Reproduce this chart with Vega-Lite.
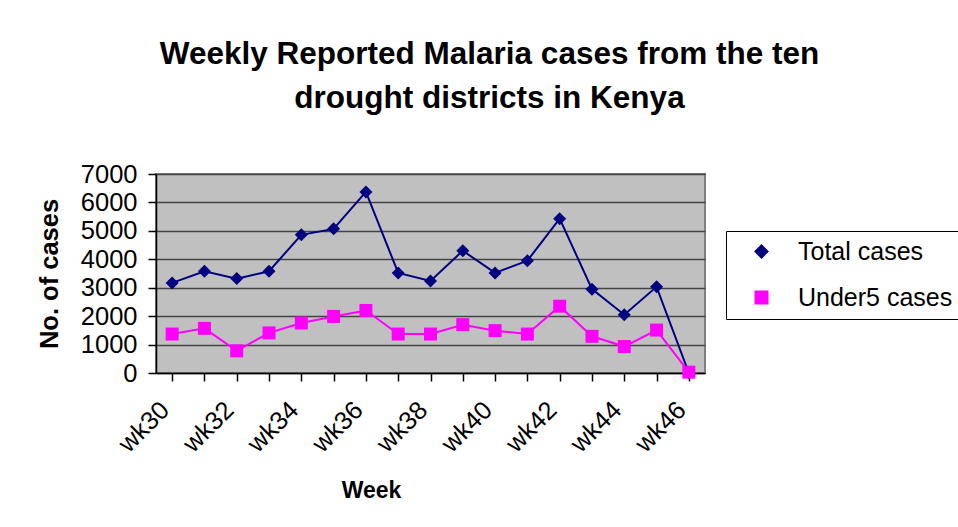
{
  "$schema": "https://vega.github.io/schema/vega-lite/v6.json",
  "autosize": "none",
  "width": 549,
  "height": 199,
  "padding": {"left": 156, "top": 174, "right": 253, "bottom": 154},
  "background": "#ffffff",
  "title": {
    "text": ["Weekly Reported Malaria cases from the ten", "drought districts in Kenya"],
    "font": "Liberation Sans",
    "fontSize": 31.5,
    "fontWeight": "bold",
    "color": "#000000",
    "anchor": "middle",
    "lineHeight": 44,
    "offset": 48,
    "dx": 59
  },
  "data": {
    "values": [
      {"week": "wk30", "series": "Total cases", "cases": 3170},
      {"week": "wk31", "series": "Total cases", "cases": 3580},
      {"week": "wk32", "series": "Total cases", "cases": 3320},
      {"week": "wk33", "series": "Total cases", "cases": 3580},
      {"week": "wk34", "series": "Total cases", "cases": 4860},
      {"week": "wk35", "series": "Total cases", "cases": 5070},
      {"week": "wk36", "series": "Total cases", "cases": 6370},
      {"week": "wk37", "series": "Total cases", "cases": 3520},
      {"week": "wk38", "series": "Total cases", "cases": 3240},
      {"week": "wk39", "series": "Total cases", "cases": 4300},
      {"week": "wk40", "series": "Total cases", "cases": 3520},
      {"week": "wk41", "series": "Total cases", "cases": 3950},
      {"week": "wk42", "series": "Total cases", "cases": 5430},
      {"week": "wk43", "series": "Total cases", "cases": 2950},
      {"week": "wk44", "series": "Total cases", "cases": 2050},
      {"week": "wk45", "series": "Total cases", "cases": 3030},
      {"week": "wk46", "series": "Total cases", "cases": 0},
      {"week": "wk30", "series": "Under5 cases", "cases": 1370},
      {"week": "wk31", "series": "Under5 cases", "cases": 1570},
      {"week": "wk32", "series": "Under5 cases", "cases": 780},
      {"week": "wk33", "series": "Under5 cases", "cases": 1410},
      {"week": "wk34", "series": "Under5 cases", "cases": 1760},
      {"week": "wk35", "series": "Under5 cases", "cases": 1990},
      {"week": "wk36", "series": "Under5 cases", "cases": 2200},
      {"week": "wk37", "series": "Under5 cases", "cases": 1370},
      {"week": "wk38", "series": "Under5 cases", "cases": 1370},
      {"week": "wk39", "series": "Under5 cases", "cases": 1700},
      {"week": "wk40", "series": "Under5 cases", "cases": 1490},
      {"week": "wk41", "series": "Under5 cases", "cases": 1370},
      {"week": "wk42", "series": "Under5 cases", "cases": 2350},
      {"week": "wk43", "series": "Under5 cases", "cases": 1290},
      {"week": "wk44", "series": "Under5 cases", "cases": 930},
      {"week": "wk45", "series": "Under5 cases", "cases": 1510},
      {"week": "wk46", "series": "Under5 cases", "cases": 30}
    ]
  },
  "encoding": {
    "x": {
      "field": "week",
      "type": "ordinal",
      "sort": null,
      "scale": {"padding": 0.5},
      "axis": {
        "title": "Week",
        "titleFont": "Liberation Sans",
        "titleFontSize": 23,
        "titleFontWeight": "bold",
        "titleColor": "#000",
        "titleX": 215,
        "titleY": 124,
        "titleBaseline": "alphabetic",
        "labelExpr": "toNumber(slice(datum.value, 2)) % 2 === 0 ? datum.value : ''",
        "labelAngle": -45,
        "labelAlign": "right",
        "labelBaseline": "top",
        "labelFont": "Liberation Sans",
        "labelFontSize": 25.5,
        "labelColor": "#000",
        "labelOffset": -16,
        "labelPadding": 16,
        "labelOverlap": false,
        "tickSize": 8,
        "tickColor": "#000",
        "tickWidth": 1.5,
        "domainColor": "#000",
        "domainWidth": 1.5,
        "grid": false
      }
    },
    "y": {
      "field": "cases",
      "type": "quantitative",
      "scale": {"domain": [0, 7000], "nice": false},
      "axis": {
        "title": "No. of cases",
        "titleFont": "Liberation Sans",
        "titleFontSize": 25.5,
        "titleFontWeight": "bold",
        "titleColor": "#000",
        "titlePadding": 18,
        "values": [0, 1000, 2000, 3000, 4000, 5000, 6000, 7000],
        "format": "d",
        "labelFont": "Liberation Sans",
        "labelFontSize": 25.5,
        "labelColor": "#000",
        "labelPadding": 11,
        "tickSize": 8,
        "tickColor": "#000",
        "tickWidth": 1.5,
        "domainColor": "#000",
        "domainWidth": 1.5,
        "grid": true,
        "gridColor": "#444",
        "gridWidth": 1.5
      }
    },
    "color": {
      "field": "series",
      "type": "nominal",
      "scale": {"domain": ["Total cases", "Under5 cases"], "range": ["#000080", "#FF00FF"]},
      "legend": {
        "title": null,
        "orient": "none",
        "legendX": 570,
        "legendY": 57,
        "strokeColor": "#000",
        "fillColor": "#fff",
        "padding": 8,
        "rowPadding": 20,
        "symbolSize": 144,
        "symbolOffset": 15,
        "symbolStrokeWidth": 2,
        "labelOffset": 24,
        "labelFont": "Liberation Sans",
        "labelFontSize": 25,
        "labelColor": "#000"
      }
    }
  },
  "layer": [
    {
      "mark": {"type": "line", "strokeWidth": 2}
    },
    {
      "mark": {"type": "point", "filled": true, "opacity": 1, "size": 169},
      "encoding": {
        "shape": {
          "field": "series",
          "type": "nominal",
          "scale": {"domain": ["Total cases", "Under5 cases"], "range": ["diamond", "square"]},
          "legend": null
        }
      }
    }
  ],
  "config": {
    "view": {"fill": "#C0C0C0", "stroke": "#808080", "strokeWidth": 2},
    "font": "Liberation Sans"
  }
}
